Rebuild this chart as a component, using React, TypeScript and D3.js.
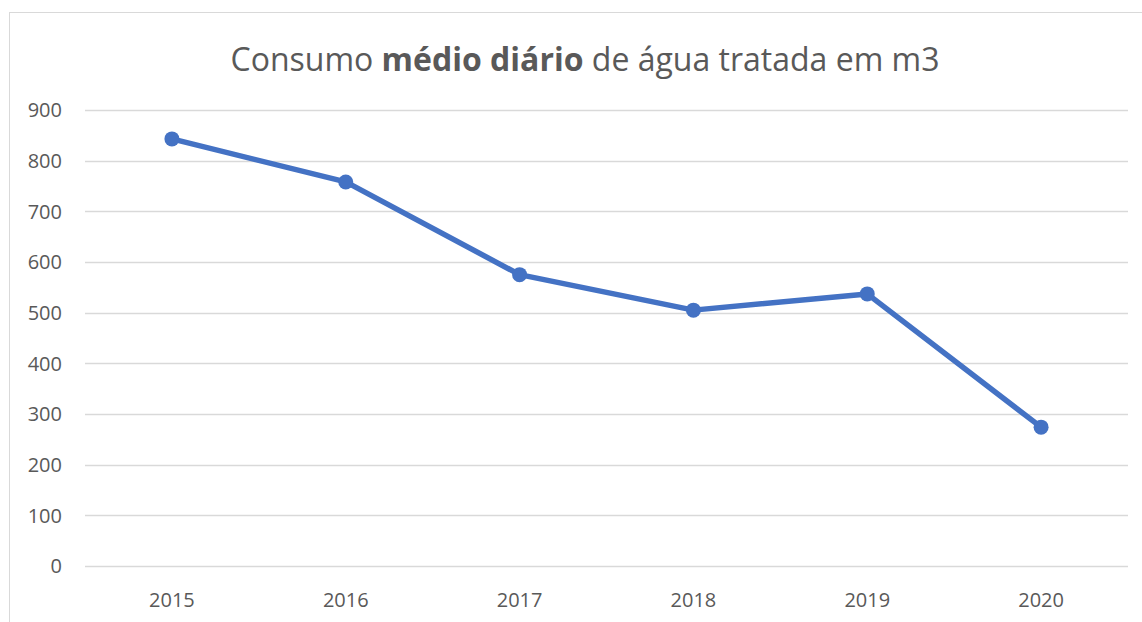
import React, { useRef, useEffect } from 'react';
import * as d3 from 'd3';

const years = ['2015', '2016', '2017', '2018', '2019', '2020'];
const consumo = [843, 758, 575, 505, 537, 274];
const yTicks = [0, 100, 200, 300, 400, 500, 600, 700, 800, 900];

const W = 1142;
const H = 622;

const App = () => {
  const svgRef = useRef<SVGSVGElement>(null);

  useEffect(() => {
    const svg = d3.select(svgRef.current);
    svg.selectAll('*').remove();

    const left = 85;
    const right = 1128;
    const top = 110;
    const bottom = 566;

    // chart frame
    svg.append('rect')
      .attr('x', 9.5)
      .attr('y', 12.5)
      .attr('width', W + 10)
      .attr('height', H + 10)
      .attr('fill', '#fff')
      .attr('stroke', '#d9d9d9')
      .attr('stroke-width', 1);

    const x = d3.scaleBand().domain(years).range([left, right]);
    const y = d3.scaleLinear().domain([0, 900]).range([bottom, top]);

    // gridlines
    svg.append('g')
      .selectAll('line')
      .data(yTicks)
      .enter()
      .append('line')
      .attr('x1', left)
      .attr('x2', right)
      .attr('y1', d => Math.round(y(d)) + 0.5)
      .attr('y2', d => Math.round(y(d)) + 0.5)
      .attr('stroke', '#d9d9d9')
      .attr('stroke-width', 1.3);

    // y labels
    svg.append('g')
      .selectAll('text')
      .data(yTicks)
      .enter()
      .append('text')
      .attr('x', 62)
      .attr('y', d => y(d))
      .attr('dy', '0.36em')
      .attr('text-anchor', 'end')
      .attr('fill', '#595959')
      .style('font-family', '"Open Sans", sans-serif')
      .style('font-size', '20px')
      .text(d => d);

    // x labels
    svg.append('g')
      .selectAll('text')
      .data(years)
      .enter()
      .append('text')
      .attr('x', d => x(d)! + x.bandwidth() / 2)
      .attr('y', 607)
      .attr('text-anchor', 'middle')
      .attr('fill', '#595959')
      .style('font-family', '"Open Sans", sans-serif')
      .style('font-size', '20px')
      .text(d => d);

    const pts = years.map((yr, i) => ({ yr, v: consumo[i] }));

    const line = d3.line<{ yr: string; v: number }>()
      .x(d => x(d.yr)! + x.bandwidth() / 2)
      .y(d => y(d.v));

    svg.append('path')
      .datum(pts)
      .attr('fill', 'none')
      .attr('stroke', '#4472C4')
      .attr('stroke-width', 5.5)
      .attr('stroke-linejoin', 'round')
      .attr('d', line);

    svg.append('g')
      .selectAll('circle')
      .data(pts)
      .enter()
      .append('circle')
      .attr('cx', d => x(d.yr)! + x.bandwidth() / 2)
      .attr('cy', d => y(d.v))
      .attr('r', 7.5)
      .attr('fill', '#4472C4');

    // title
    const title = svg.append('text')
      .attr('x', 585)
      .attr('y', 71)
      .attr('text-anchor', 'middle')
      .attr('fill', '#595959')
      .style('font-family', '"Open Sans", sans-serif')
      .style('font-size', '32px');
    title.append('tspan').text('Consumo ');
    title.append('tspan').style('font-weight', 'bold').text('médio diário');
    title.append('tspan').text(' de água tratada em m3');
  }, []);

  return (
    <svg
      ref={svgRef}
      width={W}
      height={H}
      style={{ position: 'absolute', left: 0, top: 0, background: '#fff' }}
    ></svg>
  );
};

export default App;
